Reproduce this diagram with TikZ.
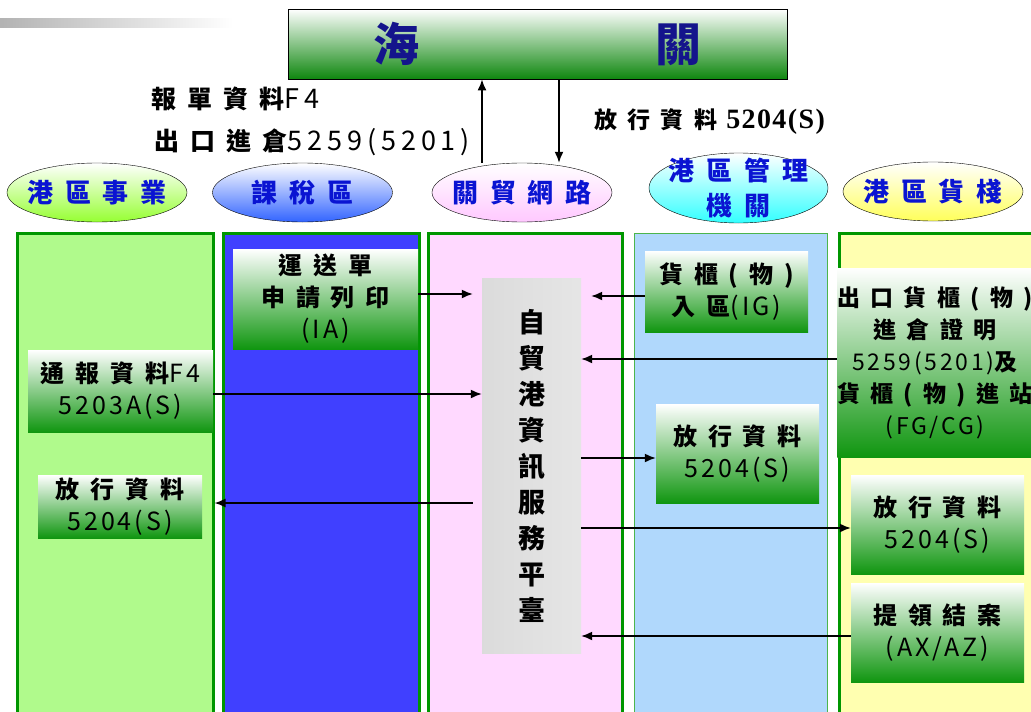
\documentclass[tikz,border=0pt]{standalone}
\usepackage{fontspec}
\usetikzlibrary{arrows.meta,shapes.geometric}
\setmainfont{Noto Sans CJK TC}
\newfontfamily\hz{Noto Sans CJK TC}[LetterSpace=45]
\newfontfamily\dg{Noto Sans CJK TC}[LetterSpace=12]
\newfontfamily\dgw{Noto Sans CJK TC}[LetterSpace=18]
\newfontfamily\tms{Liberation Serif}[LetterSpace=5]
\newcommand\dgt[1]{{\dg\mdseries\fontsize{25}{32}\selectfont #1}}
\newcommand\dgl[1]{{\dgw\mdseries\fontsize{27}{32}\selectfont #1}}
\definecolor{lanegreen}{RGB}{0,150,0}
\definecolor{boxgreen}{RGB}{16,150,16}
\definecolor{boxmid}{RGB}{170,200,170}
\definecolor{ovalblue}{RGB}{10,20,210}
\definecolor{navy}{RGB}{20,20,140}

\begin{document}
\begin{tikzpicture}[x=1pt,y=-1pt]
\tikzset{lane/.style={draw=lanegreen, line width=3pt, inner sep=0pt, minimum height=490},
  oval/.style={draw, ellipse, inner xsep=-14pt, inner ysep=-14pt, minimum width=180, minimum height=59,
    top color=white, text=ovalblue, font=\hz\bfseries\fontsize{26}{35}\selectfont, align=center},
  gbox/.style={inner sep=0pt, top color=white, middle color=boxmid, bottom color=boxgreen,
    font=\hz\bfseries\fontsize{24}{32}\selectfont, align=center},
  tlabel/.style={inner sep=0pt, anchor=west, font=\hz\bfseries\fontsize{25}{31}\selectfont},
  arr/.style={line width=1.6pt, -{Latex[length=11pt,width=9pt]}}}
\useasboundingbox (0,0) rectangle (1031,712);
\clip (0,0) rectangle (1031,712);
\shade[left color=gray!60, right color=white] (0,18) rectangle (233,27);
% customs
\node[draw, thick, inner sep=0pt, minimum width=499, minimum height=70, top color=white,
  middle color=boxmid, bottom color=boxgreen!90!black, text=navy,
  font=\hz\bfseries\fontsize{46}{46}\selectfont] (H) at (537.5,44) {海\hspace{236pt}關};
\node[tlabel] (L1) at (151,99) {報單資料\dgl{F4}};
\node[tlabel] (L2) at (154,142) {出口進倉\dgl{5259(5201)}};
\node[tlabel, font=\hz\bfseries\fontsize{23}{31}\selectfont] (L3) at (594,122)
  {放行資料\hspace{9pt}{\tms\bfseries\fontsize{28}{28}\selectfont 5204(S)}};
% lanes
\node[lane, fill={rgb,255:red,176;green,250;blue,140}, minimum width=196] (C1) at (115,478) {};
\node[lane, fill={rgb,255:red,64;green,64;blue,255}, minimum width=196] (C2) at (321,478) {};
\node[lane, fill={rgb,255:red,255;green,217;blue,255}, minimum width=194] (C3) at (525,478) {};
\node[lane, line width=1pt, draw=lanegreen!70, fill={rgb,255:red,176;green,216;blue,252}, minimum width=193] (C4) at (730.5,478) {};
\node[lane, fill={rgb,255:red,255;green,255;blue,176}, minimum width=196] (C5) at (937,478) {};
% ovals
\node[oval, bottom color={rgb,255:red,150;green,255;blue,50}] (E1) at (97,192.5) {港區事業};
\node[oval, bottom color={rgb,255:red,50;green,100;blue,255}] (E2) at (302.5,192.5) {課稅區};
\node[oval, bottom color={rgb,255:red,255;green,200;blue,255}] (E3) at (522,192.5) {關貿網路};
\node[oval, minimum width=179, minimum height=70, bottom color={rgb,255:red,50;green,255;blue,255}] (E4) at (738.5,188) {港區管理\\機關};
\node[oval, bottom color={rgb,255:red,255;green,255;blue,90}] (E5) at (933,191.5) {港區貨棧};
% boxes
\node[gbox, minimum width=185, minimum height=100] (IA) at (325.5,299) {運送單\\申請列印\\\dgt{(IA)}};
\node[gbox, minimum width=185, minimum height=82] (TB) at (120.5,391) {通報資料\dgt{F4}\\\dgt{5203A(S)}};
\node[gbox, minimum width=164, minimum height=63] (FL) at (120,506.5) {放行資料\\\dgt{5204(S)}};
\node[inner sep=0pt, minimum width=99, minimum height=375, left color=gray!28, middle color=white,
  right color=gray!20, font=\hz\bfseries\fontsize{27}{36}\selectfont, align=center] (PF) at (531.5,465.5)
  {自\\貿\\港\\資\\訊\\服\\務\\平\\臺};
\node[gbox, minimum width=163, minimum height=81] (IG) at (726.5,291.5) {貨櫃(物)\\入區\dgt{(IG)}};
\node[gbox, minimum width=163, minimum height=99] (FM) at (737.5,453.5) {放行資料\\\dgt{5204(S)}};
\node[gbox, minimum width=192, minimum height=189, font=\hz\bfseries\fontsize{23}{32}\selectfont] (CK) at (935,362.5)
  {出口貨櫃(物)\\進倉證明\\{\dg\mdseries 5259(5201)}及\\貨櫃(物)進站\\{\dg\mdseries (FG/CG)}};
\node[gbox, minimum width=173, minimum height=99] (FR) at (937.5,524.5) {放行資料\\\dgt{5204(S)}};
\node[gbox, minimum width=173, minimum height=99] (AX) at (937.5,632.5) {提領結案\\\dgt{(AX/AZ)}};
% arrows
\coordinate (u) at (482,0);
\coordinate (d) at (559,0);
\draw[arr] (E3.north -| u) -- (H.south -| u);
\draw[arr] (H.south -| d) -- (E3.north -| d);
\draw[arr, shorten >=9pt] ([yshift=5pt]IA.east) -- ([yshift=5pt]IA.east -| PF.west);
\draw[arr, shorten >=10pt] ([yshift=-4.5pt]IG.west) -- ([yshift=-4.5pt]IG.west -| PF.east);
\draw[arr] ([yshift=3.5pt]CK.west) -- ([yshift=3.5pt]CK.west -| PF.east);
\draw[arr] ([yshift=-3pt]TB.east) -- ([yshift=-3pt]TB.east -| PF.west);
\draw[arr] ([yshift=-4.5pt]FM.west -| PF.east) -- ([yshift=-4.5pt]FM.west);
\draw[arr, shorten <=9pt] ([yshift=3.5pt]FL.east -| PF.west) -- ([yshift=3.5pt]FL.east -| C1.east);
\draw[arr] ([yshift=-3.5pt]FR.west -| PF.east) -- ([yshift=-3.5pt]FR.west);
\draw[arr] ([yshift=-3.5pt]AX.west) -- ([yshift=-3.5pt]AX.west -| PF.east);
\end{tikzpicture}
\end{document}
